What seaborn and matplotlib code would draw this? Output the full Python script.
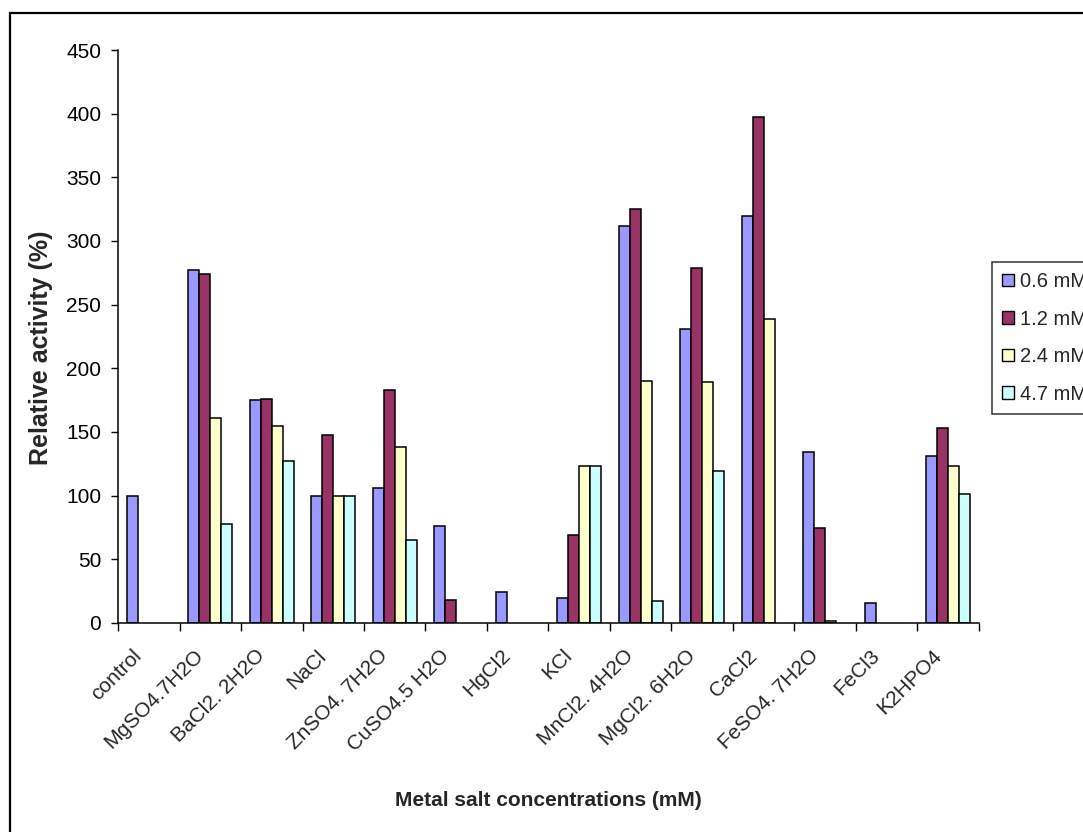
import numpy as np
import pandas as pd
import matplotlib
matplotlib.use("Agg")
import matplotlib.pyplot as plt
from matplotlib.patches import Patch, Rectangle
from matplotlib.transforms import ScaledTranslation
import seaborn as sns

# Relative enzyme activity (%) in the presence of metal salts
categories = ["control", "MgSO4.7H2O", "BaCl2. 2H2O", "NaCl", "ZnSO4. 7H2O",
              "CuSO4.5 H2O", "HgCl2", "KCl", "MnCl2. 4H2O", "MgCl2. 6H2O",
              "CaCl2", "FeSO4. 7H2O", "FeCl3", "K2HPO4"]
conc_labels = ["0.6 mM", "1.2 mM", "2.4 mM", "4.7 mM"]
nan = np.nan
act_06 = [100, 277, 175, 100, 106, 76, 24, 20, 312, 231, 320, 134, 16, 131]
act_12 = [nan, 274, 176, 148, 183, 18, nan, 69, 325, 279, 397, 75, nan, 153]
act_24 = [nan, 161, 155, 100, 138, nan, nan, 123, 190, 189, 239, 1.5, nan, 123]
act_47 = [nan, 78, 127, 100, 65, nan, nan, 123, 17, 119, nan, nan, nan, 101]
y_ticks = [0, 50, 100, 150, 200, 250, 300, 350, 400, 450]

colors = ["#9999FF", "#993366", "#FFFFCC", "#CCFFFF"]

rows = []
for label, vals in zip(conc_labels, [act_06, act_12, act_24, act_47]):
    for cat, v in zip(categories, vals):
        rows.append({"salt": cat, "conc": label, "activity": v})
df = pd.DataFrame(rows).dropna()

sns.set_style("white")
plt.rcParams["font.family"] = ["Liberation Sans", "DejaVu Sans"]

fig = plt.figure(figsize=(10.83, 8.32), dpi=100)
ax = fig.add_axes([118 / 1083, 1 - 623 / 832, (979 - 118) / 1083, (623 - 50) / 832])

sns.barplot(data=df, x="salt", y="activity", hue="conc", order=categories,
            hue_order=conc_labels, palette=colors, width=0.72,
            edgecolor="black", linewidth=1.1, errorbar=None, ax=ax,
            legend=False, saturation=1)

ax.set_xlim(-0.5, len(categories) - 0.5)
ax.set_ylim(0, 450)
ax.set_yticks(y_ticks)
ax.tick_params(axis="y", direction="out", length=5, width=1, colors="black",
               labelsize=15, pad=7, left=True)

ax.set_xticks(np.arange(-0.5, len(categories)), minor=True)
ax.tick_params(axis="x", which="minor", direction="out", length=6, width=1,
               colors="black", bottom=True)
ax.tick_params(axis="x", which="major", length=0, pad=20)
ax.set_xticks(range(len(categories)))
ax.set_xticklabels(categories, rotation=45, ha="right", va="center",
                   rotation_mode="anchor", fontsize=15)
# nudge the slanted category labels so they end just left of each group centre
shift = ScaledTranslation(-10 / 100, -2 / 100, fig.dpi_scale_trans)
for lab in ax.get_xticklabels():
    lab.set_transform(lab.get_transform() + shift)

for side in ["top", "right"]:
    ax.spines[side].set_visible(False)
for side in ["left", "bottom"]:
    ax.spines[side].set_color("black")
    ax.spines[side].set_linewidth(1.1)

ax.set_xlabel("Metal salt concentrations (mM)", fontsize=15, fontweight="bold")
ax.xaxis.set_label_coords(0.5, -(800 - 623) / 573)
ax.xaxis.label.set_va("center")
ax.set_ylabel("Relative activity (%)", fontsize=18, fontweight="bold")
ax.yaxis.set_label_coords(-(118 - 41) / 861, (623 - 348) / 573)
ax.yaxis.label.set_va("center")

handles = [Patch(facecolor=c, edgecolor="black", linewidth=1) for c in colors]
leg = fig.legend(handles, conc_labels, loc="upper left",
                 bbox_to_anchor=(992 / 1083, 1 - 262 / 832),
                 bbox_transform=fig.transFigure, fontsize=14.5, frameon=True,
                 fancybox=False, edgecolor="black", handlelength=0.6,
                 handleheight=0.6, handletextpad=0.3, labelspacing=0.92,
                 borderpad=0.5, borderaxespad=0)
leg.get_frame().set_linewidth(1.1)

# outer chart-area border
fig.patches.append(Rectangle((10 / 1083, -0.1), 1.2, 1 - 13 / 832 + 0.1,
                             transform=fig.transFigure, fill=False,
                             edgecolor="black", linewidth=1.6, clip_on=False))

fig.savefig("out.png", dpi=100)
